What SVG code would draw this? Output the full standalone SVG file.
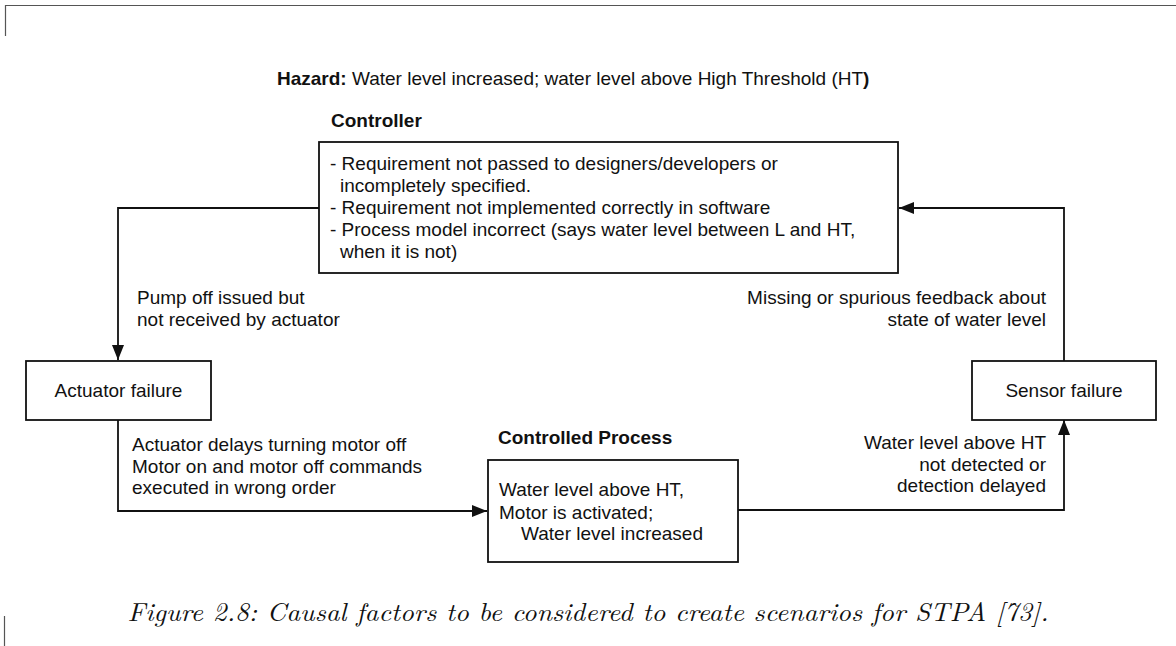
<svg xmlns="http://www.w3.org/2000/svg" width="1176" height="646" viewBox="0 0 1176 646">
<style>
  .t { font-family: "Liberation Sans", Arial, Helvetica, sans-serif; font-size: 19px; fill: #111; }
  .b { font-weight: bold; }
  .box { fill: #fff; stroke: #111; stroke-width: 1.8; }
  .ln { fill: none; stroke: #111; stroke-width: 1.8; }
  .frame { fill: none; stroke: #555; stroke-width: 1.2; }
  .cap { font-family: "Latin Modern Roman", "Liberation Serif", "Times New Roman", serif; font-style: italic; font-size: 26px; fill: #111; }
</style>
<defs>
  <marker id="arr" markerWidth="15" markerHeight="12" refX="15" refY="6" orient="auto" markerUnits="userSpaceOnUse">
    <path d="M0,0 L15,6 L0,12 Z" fill="#111"/>
  </marker>
</defs>
<rect width="1176" height="646" fill="#fff"/>
<g id="frame">
  <path class="frame" d="M5.5,36 V5.5 H1176"/>
  <path class="frame" d="M4.5,616 V646"/>
</g>
<g id="hazard">
  <text class="t" x="277" y="85"><tspan class="b">Hazard:</tspan> Water level increased; water level above High Threshold (HT<tspan class="b">)</tspan></text>
</g>
<g id="connectors">
  <path class="ln" d="M319,208 H118 V360" marker-end="url(#arr)"/>
  <path class="ln" d="M118,420 V511 H487" marker-end="url(#arr)"/>
  <path class="ln" d="M738,510 H1064 V420" marker-end="url(#arr)"/>
  <path class="ln" d="M1064,361 V208 H899" marker-end="url(#arr)"/>
  <text class="t" x="137" y="304">Pump off issued but</text>
  <text class="t" x="137" y="326">not received by actuator</text>
  <text class="t" x="1046" y="304" text-anchor="end">Missing or spurious feedback about</text>
  <text class="t" x="1046" y="326" text-anchor="end">state of water level</text>
  <text class="t" x="132" y="451">Actuator delays turning motor off</text>
  <text class="t" x="132" y="473">Motor on and motor off commands</text>
  <text class="t" x="132" y="494">executed in wrong order</text>
  <text class="t" x="1046" y="449" text-anchor="end">Water level above HT</text>
  <text class="t" x="1046" y="471" text-anchor="end">not detected or</text>
  <text class="t" x="1046" y="492" text-anchor="end">detection delayed</text>
</g>
<g id="controller">
  <text class="t b" x="331" y="127">Controller</text>
  <rect class="box" x="319" y="142" width="579" height="131"/>
  <text class="t" x="330" y="170">- Requirement not passed to designers/developers or</text>
  <text class="t" x="340" y="192">incompletely specified.</text>
  <text class="t" x="330" y="214">- Requirement not implemented correctly in software</text>
  <text class="t" x="330" y="236">- Process model incorrect (says water level between L and HT,</text>
  <text class="t" x="340" y="258">when it is not)</text>
</g>
<g id="actuator">
  <rect class="box" x="26" y="361" width="185" height="59"/>
  <text class="t" x="118.5" y="397" text-anchor="middle">Actuator failure</text>
</g>
<g id="sensor">
  <rect class="box" x="972" y="361" width="184" height="59"/>
  <text class="t" x="1064" y="397" text-anchor="middle">Sensor failure</text>
</g>
<g id="process">
  <text class="t b" x="498" y="444">Controlled Process</text>
  <rect class="box" x="488" y="460" width="250" height="102"/>
  <text class="t" x="499" y="496">Water level above HT,</text>
  <text class="t" x="499" y="519">Motor is activated;</text>
  <text class="t" x="521" y="540">Water level increased</text>
</g>
<g id="caption">
  <text class="cap" x="588" y="621" text-anchor="middle" textLength="921" lengthAdjust="spacingAndGlyphs">Figure 2.8: Causal factors to be considered to create scenarios for STPA [73].</text>
</g>
</svg>
